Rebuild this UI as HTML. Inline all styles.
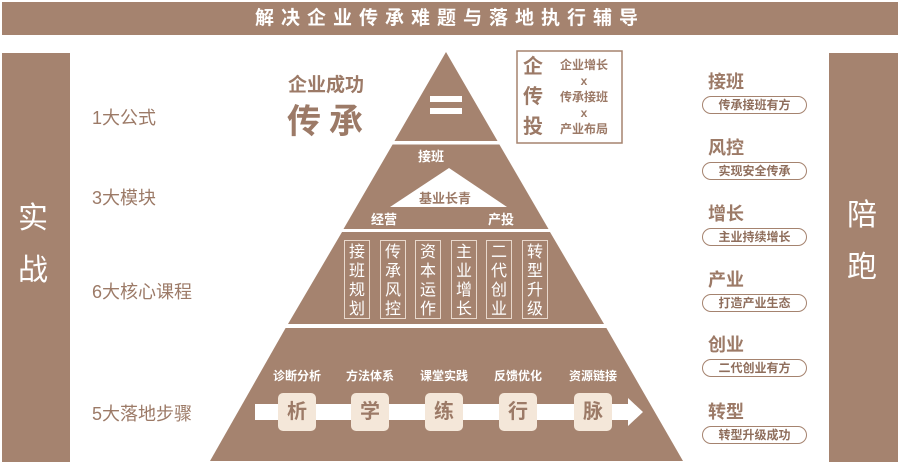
<!DOCTYPE html>
<html><head><meta charset="utf-8"><style>
body{margin:0;width:900px;height:464px;background:#fff;position:relative;overflow:hidden;font-family:"Liberation Sans","Noto Sans CJK SC",sans-serif;}
.a{position:absolute;}
.c{color:#9c7a67;font-weight:bold;}
.pill{position:absolute;left:702px;width:103px;height:16px;border:1.5px solid #a5836f;border-radius:10px;font-size:12px;line-height:16px;text-align:center;color:#8f6e5c;font-weight:bold;}
.rl{position:absolute;left:708px;font-size:18px;font-weight:bold;color:#9c7a67;}
.vb{position:absolute;top:240px;width:26px;height:79px;border:1px solid #e8d8cc;color:#fff;font-size:16px;line-height:19px;text-align:center;padding-top:2px;box-sizing:border-box;}
.st{position:absolute;top:393px;width:38px;height:38px;background:#f4e7d9;border-radius:5px;color:#9c7a67;font-size:20px;font-weight:bold;line-height:38px;text-align:center;}
.sl{position:absolute;top:367px;width:70px;text-align:center;color:#fff;font-size:12px;font-weight:bold;}
.ll{position:absolute;left:92px;font-size:18px;color:#9c7a67;}
</style></head><body>
<div class="a" style="left:2px;top:2px;width:896px;height:33px;background:#a5836f;color:#fff;font-size:19px;font-weight:bold;text-align:center;line-height:33px;letter-spacing:7px;">解决企业传承难题与落地执行辅导</div>
<div class="a" style="left:2px;top:53px;width:68px;height:409px;background:#a5836f;"></div>
<div class="a" style="left:829px;top:53px;width:69px;height:409px;background:#a5836f;"></div>
<div class="a" style="left:18px;top:193px;color:#fff;font-size:30px;line-height:52px;width:36px;">实<br>战</div>
<div class="a" style="left:847px;top:190px;color:#fff;font-size:30px;line-height:52px;width:36px;">陪<br>跑</div>
<div class="ll" style="top:104px;">1大公式</div>
<div class="ll" style="top:184px;">3大模块</div>
<div class="ll" style="top:278px;">6大核心课程</div>
<div class="ll" style="top:400px;">5大落地步骤</div>
<div class="a c" style="left:288px;top:70px;font-size:19px;">企业成功</div>
<div class="a c" style="left:287px;top:94px;font-size:34px;letter-spacing:8px;">传承</div>
<svg class="a" style="left:0;top:0" width="900" height="464">
<polygon points="446,52 394.5,141 497.5,141" fill="#a5836f"/>
<polygon points="392.6,144.5 499.4,144.5 548.5,229 343.5,229" fill="#a5836f"/>
<polygon points="342,232 550,232 604,324 288,324" fill="#a5836f"/>
<polygon points="285.6,328 606.4,328 683,461 210,461" fill="#a5836f"/>
<polygon points="449,168 507,207 390,207" fill="#fff"/>
<rect x="430" y="96" width="32" height="6" fill="#fff"/>
<rect x="430" y="108" width="32" height="6" fill="#fff"/>
<rect x="517" y="51" width="105" height="92" fill="none" stroke="#a5836f" stroke-width="1.5"/>
<polygon points="255,404 628,404 628,398 643,412 628,426 628,420 255,420" fill="#fff"/>
</svg>
<div class="a" style="left:418px;top:146px;color:#fff;font-size:13px;font-weight:bold;">接班</div>
<div class="a c" style="left:419px;top:188px;font-size:13px;">基业长青</div>
<div class="a" style="left:371px;top:209px;color:#fff;font-size:13px;font-weight:bold;">经营</div>
<div class="a" style="left:488px;top:209px;color:#fff;font-size:13px;font-weight:bold;">产投</div>
<div class="a c" style="left:523px;top:52px;font-size:20px;line-height:30px;width:22px;">企<br>传<br>投</div>
<div class="a c" style="left:551px;top:57px;font-size:12px;line-height:16px;width:66px;text-align:center;">企业增长<br>x<br>传承接班<br>x<br>产业布局</div>
<div class="vb" style="left:344px;">接<br>班<br>规<br>划</div>
<div class="vb" style="left:380px;">传<br>承<br>风<br>控</div>
<div class="vb" style="left:415px;">资<br>本<br>运<br>作</div>
<div class="vb" style="left:451px;">主<br>业<br>增<br>长</div>
<div class="vb" style="left:486px;">二<br>代<br>创<br>业</div>
<div class="vb" style="left:522px;">转<br>型<br>升<br>级</div>
<div class="sl" style="left:262px;">诊断分析</div>
<div class="sl" style="left:335px;">方法体系</div>
<div class="sl" style="left:409px;">课堂实践</div>
<div class="sl" style="left:483px;">反馈优化</div>
<div class="sl" style="left:558px;">资源链接</div>
<div class="st" style="left:278px;">析</div>
<div class="st" style="left:351px;">学</div>
<div class="st" style="left:425px;">练</div>
<div class="st" style="left:499px;">行</div>
<div class="st" style="left:574px;">脉</div>
<div class="rl" style="top:68px;">接班</div><div class="pill" style="top:96px;">传承接班有方</div>
<div class="rl" style="top:134px;">风控</div><div class="pill" style="top:162px;">实现安全传承</div>
<div class="rl" style="top:200px;">增长</div><div class="pill" style="top:228px;">主业持续增长</div>
<div class="rl" style="top:266px;">产业</div><div class="pill" style="top:294px;">打造产业生态</div>
<div class="rl" style="top:331px;">创业</div><div class="pill" style="top:359px;">二代创业有方</div>
<div class="rl" style="top:398px;">转型</div><div class="pill" style="top:426px;">转型升级成功</div>
</body></html>
